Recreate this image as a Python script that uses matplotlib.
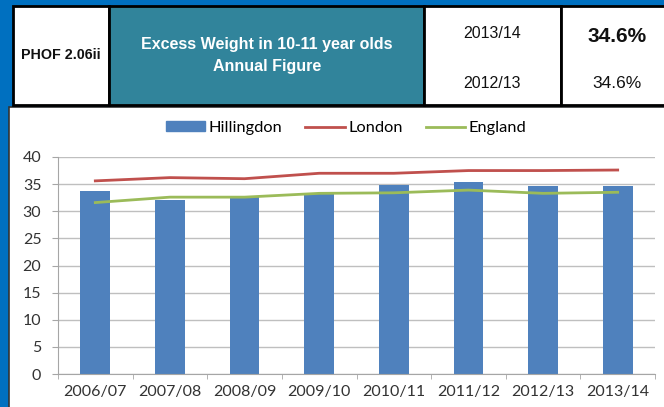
import matplotlib
matplotlib.use("Agg")
import matplotlib.pyplot as plt
from matplotlib.patches import Rectangle
from matplotlib.lines import Line2D
import numpy as np

categories = ["2006/07", "2007/08", "2008/09", "2009/10", "2010/11", "2011/12", "2012/13", "2013/14"]
hillingdon = [33.7, 32.0, 32.6, 33.3, 34.9, 35.4, 34.6, 34.6]
london = [35.6, 36.2, 36.0, 37.0, 37.0, 37.5, 37.5, 37.6]
england = [31.6, 32.6, 32.6, 33.3, 33.4, 33.9, 33.3, 33.5]
yticks = [0, 5, 10, 15, 20, 25, 30, 35, 40]

W, H = 664, 407
fig = plt.figure(figsize=(W / 100, H / 100), dpi=100)
fig.patch.set_facecolor("#0070C0")

def px(x, y, w, h):
    return (x / W, 1 - (y + h) / H, w / W, h / H)

def rect(x, y, w, h, fc, ec="black", lw=0, z=1):
    l, b, ww, hh = px(x, y, w, h)
    fig.add_artist(Rectangle((l, b), ww, hh, transform=fig.transFigure,
                             facecolor=fc, edgecolor=ec, linewidth=lw, zorder=z))

def text(x, y, s, **kw):
    fig.text(x / W, 1 - y / H, s, ha="center", va="center", **kw)

# chart white box
rect(9, 107, 700, 400, "white", ec="#333333", lw=1.2, z=0)

# header cells
rect(13, 6, 96, 99, "white", lw=2)
rect(109, 6, 315, 99, "#31849B", lw=2)
rect(424, 6, 137, 99, "white", lw=2)
rect(561, 6, 150, 99, "white", lw=2)

hf = ["Liberation Sans"]
text(61, 55, "PHOF 2.06ii", family=hf, fontsize=10.3, fontweight="bold", color="#111111")
text(267, 45, "Excess Weight in 10-11 year olds", family=hf, fontsize=11.5,
     fontweight="bold", color="white")
text(267, 67, "Annual Figure", family=hf, fontsize=11.5, fontweight="bold", color="white")
text(492, 34, "2013/14", family=hf, fontsize=11.5, color="#111111")
text(492, 84, "2012/13", family=hf, fontsize=11.5, color="#111111")
text(617, 36, "34.6%", family=hf, fontsize=15, fontweight="bold", color="#111111")
text(617, 84, "34.6%", family=hf, fontsize=12.5, color="#111111")

# plot area
ax = fig.add_axes(px(58, 157, 597, 217))
ax.set_facecolor("none")
x = np.arange(len(categories))
ax.bar(x, hillingdon, width=0.4, color="#4F81BD", zorder=2)
ax.plot(x, london, color="#C0504D", lw=2, zorder=3)
ax.plot(x, england, color="#9BBB59", lw=2, zorder=3)
ax.set_xlim(-0.5, len(categories) - 0.5)
ax.set_ylim(0, 40)
ax.set_yticks(yticks)
ax.yaxis.grid(True, color="#BFBFBF", lw=1, zorder=0)
ax.set_axisbelow(True)
for s in ["top", "right"]:
    ax.spines[s].set_visible(False)
ax.spines["left"].set_color("#A6A6A6")
ax.spines["bottom"].set_color("#A6A6A6")
ax.set_xticks(x)
ax.set_xticklabels(categories)
ax.set_xticks(np.arange(-0.5, len(categories)), minor=True)
ax.tick_params(axis="x", which="major", length=0, pad=8)
ax.tick_params(axis="x", which="minor", length=3.5, color="#A6A6A6", direction="out")
ax.tick_params(axis="y", length=4, color="#A6A6A6", pad=8)
tf = ["Lato"]
for lab in ax.get_xticklabels() + ax.get_yticklabels():
    lab.set_family(tf)
    lab.set_fontsize(11.5)
    lab.set_color("#333333")

# legend
handles = [Rectangle((0, 0), 1, 1, color="#4F81BD"),
           Line2D([0], [0], color="#C0504D", lw=2),
           Line2D([0], [0], color="#9BBB59", lw=2)]
fig.legend(handles, ["Hillingdon", "London", "England"], loc="center",
           bbox_to_anchor=(346 / W, 1 - 128 / H), ncol=3, frameon=False,
           prop={"family": tf, "size": 11.8}, handlelength=2.4, handletextpad=0.2,
           columnspacing=1.4, handleheight=0.55)

fig.savefig("out.png", dpi=100, facecolor=fig.get_facecolor())
